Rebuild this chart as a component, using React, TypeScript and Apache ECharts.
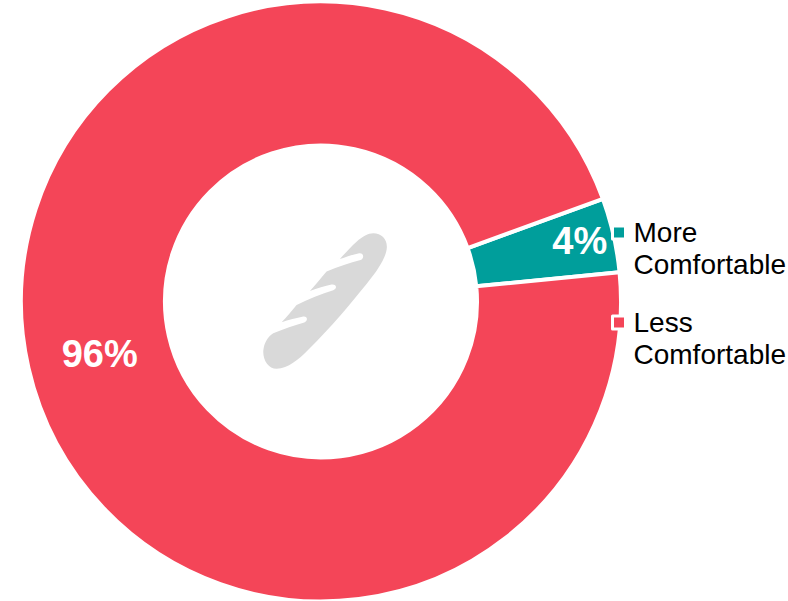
import React, { useEffect, useRef } from "react";
import * as echarts from "echarts";

const categories = ["More\nComfortable", "Less\nComfortable"];
const shares = [4, 96];
const colors = ["#009E9B", "#F44558"];

const FONT = '"Liberation Sans", Arial, sans-serif';

// Baguette silhouette with three score marks, drawn in a 510x540 box.
const BAGUETTE =
  "M400 70 C425 70 442 88 441 112 C440 140 415 180 380 222 C350 258 325 290 300 318 " +
  "C270 352 240 385 205 420 C175 450 145 476 110 477 C85 477 68 450 70 422 C72 400 82 382 100 370 " +
  "C130 358 165 346 193 338 C205 333 203 318 190 320 C170 324 145 331 125 337 C140 322 155 302 170 285 " +
  "C205 268 245 252 280 241 C293 236 290 222 275 224 C255 228 232 236 210 243 C228 224 245 202 260 185 " +
  "C295 170 330 158 362 150 C374 146 372 128 358 130 C340 133 320 141 300 147 C315 130 333 110 350 95 " +
  "C368 80 385 70 400 70 Z";

echarts.graphic.registerShape("baguette", echarts.graphic.extendPath(BAGUETTE as any, {}) as any);

export default function App() {
  const ref = useRef<HTMLDivElement>(null);

  useEffect(() => {
    const chart = echarts.init(ref.current!, undefined, { renderer: "svg" });
    chart.setOption({
      animation: false,
      backgroundColor: "#ffffff",
      legend: {
        orient: "vertical",
        left: 611,
        top: 186.5,
        padding: 0,
        itemWidth: 13,
        itemHeight: 13,
        itemGap: -2,
        itemStyle: { borderColor: "#ffffff", borderWidth: 3 },
        icon: "rect",
        selectedMode: false,
        data: categories.map((name) => ({ name })),
        // A blank first line keeps each swatch level with the first line of its label.
        formatter: (name: string) =>
          ["\u00a0", ...name.split("\n")].map((line) => `{t|${line}}`).join("\n"),
        textStyle: {
          rich: {
            t: {
              color: "#000000",
              fontFamily: FONT,
              fontSize: 28,
              lineHeight: 32,
              padding: [0, 0, 0, 3],
            },
          },
        },
      },
      graphic: [
        {
          type: "baguette",
          x: 240,
          y: 210,
          scaleX: 1 / 3,
          scaleY: 1 / 3,
          z: 10,
          style: { fill: "#D9D9D9" },
        },
      ],
      series: [
        {
          type: "pie",
          center: [321, 301.5],
          radius: [156, 300],
          startAngle: 20,
          clockwise: true,
          avoidLabelOverlap: false,
          labelLine: { show: false },
          itemStyle: { borderColor: "#ffffff", borderWidth: 4 },
          label: {
            show: true,
            position: "inside",
            formatter: "{c}%",
            color: "#ffffff",
            fontFamily: FONT,
            fontWeight: "bold",
            fontSize: 38,
          },
          data: categories.map((name, i) => ({
            name,
            value: shares[i],
            itemStyle: { color: colors[i] },
            // The narrow slice carries its label nearer the outer rim.
            label: { offset: i === 0 ? [33.5, -9] : [4, 1] },
          })),
        },
      ],
    });
    return () => chart.dispose();
  }, []);

  return (
    <div
      ref={ref}
      style={{ position: "fixed", left: 0, top: 0, width: 788, height: 601 }}
    />
  );
}
